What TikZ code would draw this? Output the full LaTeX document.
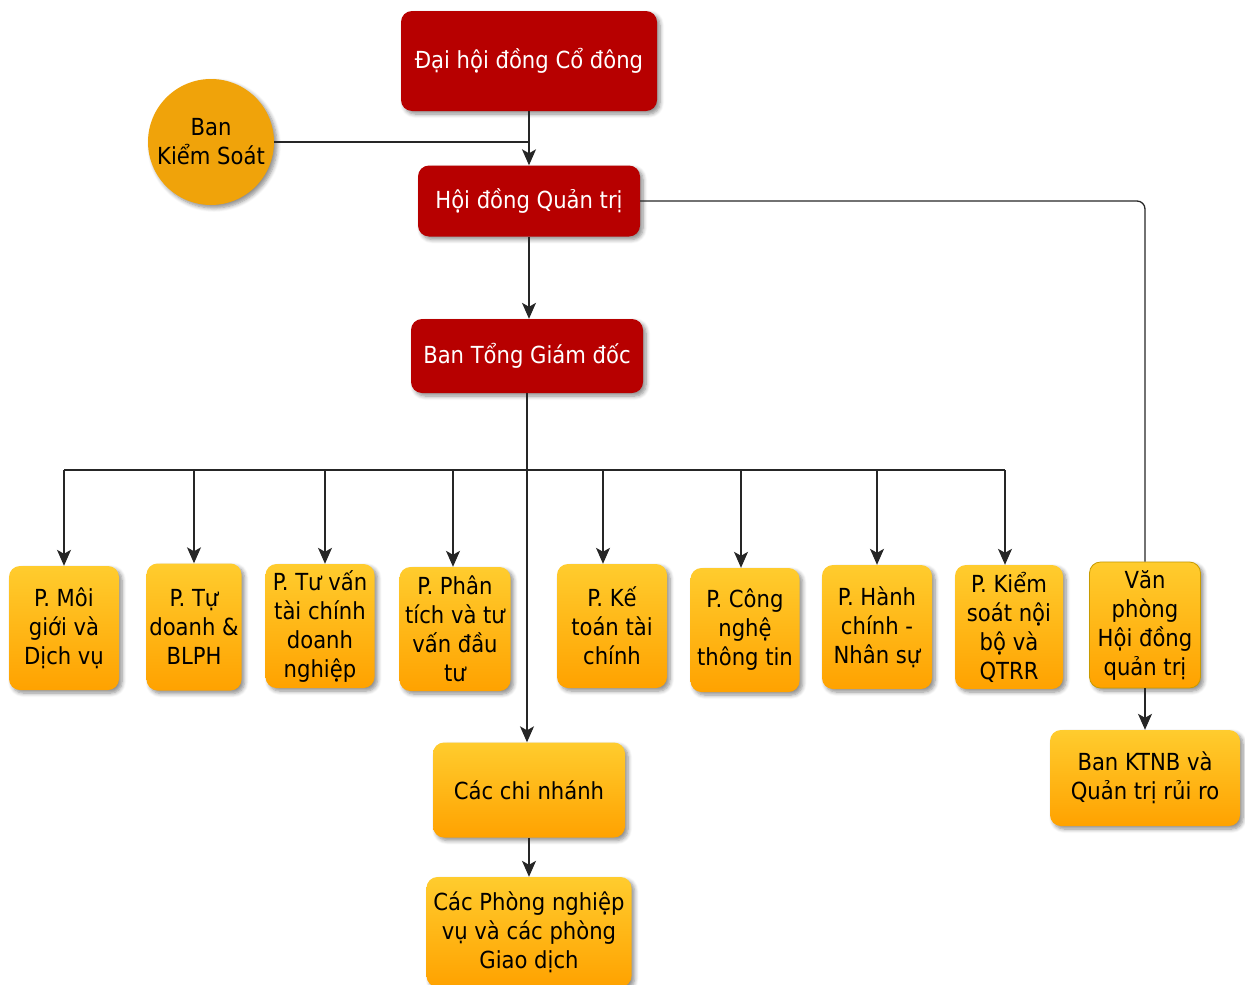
\documentclass[tikz,border=0pt]{standalone}
\usepackage{fontspec}
\setmainfont{DejaVu Sans Condensed}
\usetikzlibrary{shadows.blur,arrows.meta}
\definecolor{redA}{HTML}{B70000}
\definecolor{orgA}{HTML}{F0A30A}
\definecolor{ylwT}{HTML}{FFCC2E}
\definecolor{ylwB}{HTML}{FFA200}
\definecolor{vpBorder}{HTML}{C89B00}
\begin{document}
\begin{tikzpicture}[x=1pt,y=-1pt,
  shd/.style={blur shadow={shadow xshift=3pt,shadow yshift=-3pt,shadow blur radius=4pt,shadow blur steps=6,shadow opacity=45}},
  txt/.style={font=\fontsize{23.5}{29}\selectfont, align=center, inner sep=0pt},
  redbox/.style={shd, txt, fill=redA, rounded corners=11pt, text=white},
  ybox/.style={shd, txt, top color=ylwT, bottom color=ylwB, rounded corners=11pt, text=black},
  conn/.style={line width=1.3pt, draw=black!85},
  arr/.style={conn, -{Stealth[length=16pt,width=14pt,inset=4pt]}}
]
\useasboundingbox (0,0) rectangle (1245,985);

% top level
\node[redbox, minimum width=256pt, minimum height=100pt] (dh) at (529,61) {Đại hội đồng Cổ đông};
\node[shd, txt, circle, fill=orgA, minimum size=126pt] (bks) at (211,142) {Ban\\Kiểm Soát};
\node[redbox, minimum width=222pt, minimum height=71pt] (hd) at (529,201) {Hội đồng Quản trị};
\node[redbox, minimum width=232pt, minimum height=74pt] (tgd) at (527,356) {Ban Tổng Giám đốc};

% departments
\node[ybox, minimum width=110pt, minimum height=124pt] (n1) at (64,628) {P. Môi\\giới và\\Dịch vụ};
\node[ybox, minimum width=95pt, minimum height=127pt] (n2) at (194,627) {P. Tự\\doanh \&\\BLPH};
\node[ybox, minimum width=109pt, minimum height=124pt] (n3) at (320,626) {P. Tư vấn\\tài chính\\doanh\\nghiệp};
\node[ybox, minimum width=111pt, minimum height=124pt] (n4) at (455,629) {P. Phân\\tích và tư\\vấn đầu\\tư};
\node[ybox, minimum width=110pt, minimum height=124pt] (n5) at (612,626) {P. Kế\\toán tài\\chính};
\node[ybox, minimum width=109pt, minimum height=124pt] (n6) at (745,630) {P. Công\\nghệ\\thông tin};
\node[ybox, minimum width=110pt, minimum height=124pt] (n7) at (877,627) {P. Hành\\chính -\\Nhân sự};
\node[ybox, minimum width=108pt, minimum height=124pt] (n8) at (1009,627) {P. Kiểm\\soát nội\\bộ và\\QTRR};
\node[ybox, draw=vpBorder, line width=0.8pt, minimum width=111pt, minimum height=126pt] (vp) at (1145,625) {Văn\\phòng\\Hội đồng\\quản trị};
\node[ybox, minimum width=190pt, minimum height=96pt] (kt) at (1145,778) {Ban KTNB và\\Quản trị rủi ro};
\node[ybox, minimum width=192pt, minimum height=95pt] (cn) at (529,790) {Các chi nhánh};
\node[ybox, minimum width=205pt, minimum height=110pt] (cp) at (529,932) {Các Phòng nghiệp\\vụ và các phòng\\Giao dịch};

% connectors top
\coordinate (j1) at (dh.south |- bks.east);
\draw[conn] (bks.east) -- (j1);
\draw[arr] (dh.south) -- (hd.north);
\draw[arr] (hd.south) -- (hd.south |- tgd.north);
\draw[conn, rounded corners=8pt] (hd.east) -| (vp.north);
\draw[arr] (vp.south) -- (kt.north);

% trunk and bus
\draw[arr] (tgd.south) -- (tgd.south |- cn.north);
\draw[arr] (cn.south) -- (cp.north);
\coordinate (busL) at (64,470);
\coordinate (busR) at (1005,470);
\draw[conn] (busL) -- (busR);
\draw[arr] (n1.north |- busL) -- (n1.north);
\draw[arr] (n2.north |- busL) -- (n2.north);
\draw[arr] ([xshift=5pt]n3.north |- busL) -- ([xshift=5pt]n3.north);
\draw[arr] ([xshift=-2pt]n4.north |- busL) -- ([xshift=-2pt]n4.north);
\draw[arr] ([xshift=-9pt]n5.north |- busL) -- ([xshift=-9pt]n5.north);
\draw[arr] ([xshift=-4pt]n6.north |- busL) -- ([xshift=-4pt]n6.north);
\draw[arr] (n7.north |- busL) -- (n7.north);
\draw[arr] ([xshift=-4pt]n8.north |- busL) -- ([xshift=-4pt]n8.north);
\end{tikzpicture}
\end{document}
